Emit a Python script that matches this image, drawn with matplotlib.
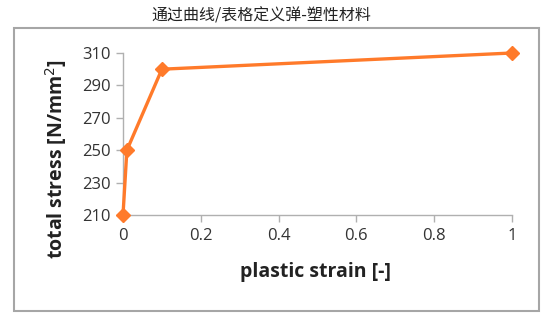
import matplotlib
matplotlib.use("Agg")
import matplotlib.pyplot as plt
from matplotlib.patches import Rectangle

plastic_strain = [0, 0.01, 0.1, 1]
total_stress = [210, 250, 300, 310]
x_ticks = [0, 0.2, 0.4, 0.6, 0.8, 1]
x_tick_labels = ["0", "0.2", "0.4", "0.6", "0.8", "1"]
y_ticks = [210, 230, 250, 270, 290, 310]
title = "通过曲线/表格定义弹-塑性材料"
xlabel = "plastic strain [-]"
ylabel = "total stress [N/mm$^2$]"

W, H = 554, 322
fig = plt.figure(figsize=(W / 100, H / 100), dpi=100)

# outer frame
fig.patches.append(Rectangle((14 / W, 1 - 311 / H), (539 - 14) / W, (311 - 28) / H,
                             transform=fig.transFigure, fill=False,
                             edgecolor="#a6a6a6", linewidth=1.5))
fig.text(261 / W, 1 - 16 / H, title, ha="center", va="center", fontsize=11.5,
         family=["Noto Sans CJK SC", "DejaVu Sans"], color="#222222")

ax = fig.add_axes([123 / W, 1 - 215 / H, (512 - 123) / W, (215 - 53) / H])
ax.plot(plastic_strain, total_stress, color="#ff7a2a", linewidth=2.4,
        marker="D", markersize=7, clip_on=False, zorder=3)
ax.set_xlim(0, 1)
ax.set_ylim(210, 310)
ax.set_xticks(x_ticks)
ax.set_xticklabels(x_tick_labels)
ax.set_yticks(y_ticks)
for s in ["top", "right"]:
    ax.spines[s].set_visible(False)
for s in ["left", "bottom"]:
    ax.spines[s].set_color("#b0b0b0")
    ax.spines[s].set_linewidth(1.0)
ax.tick_params(axis="both", colors="#b0b0b0", labelcolor="#333333",
               labelsize=12, length=5, width=1.0, pad=4)
for lab in ax.get_xticklabels() + ax.get_yticklabels():
    lab.set_family("Open Sans")

fig.text(316 / W, 1 - 272 / H, xlabel, ha="center", va="center", fontsize=14,
         fontweight="bold", family="Open Sans", color="#222222")
fig.text(56 / W, 1 - 159 / H, ylabel, ha="center", va="center", fontsize=14,
         fontweight="bold", family="Open Sans", color="#222222", rotation=90)

fig.savefig("out.png", dpi=100)
